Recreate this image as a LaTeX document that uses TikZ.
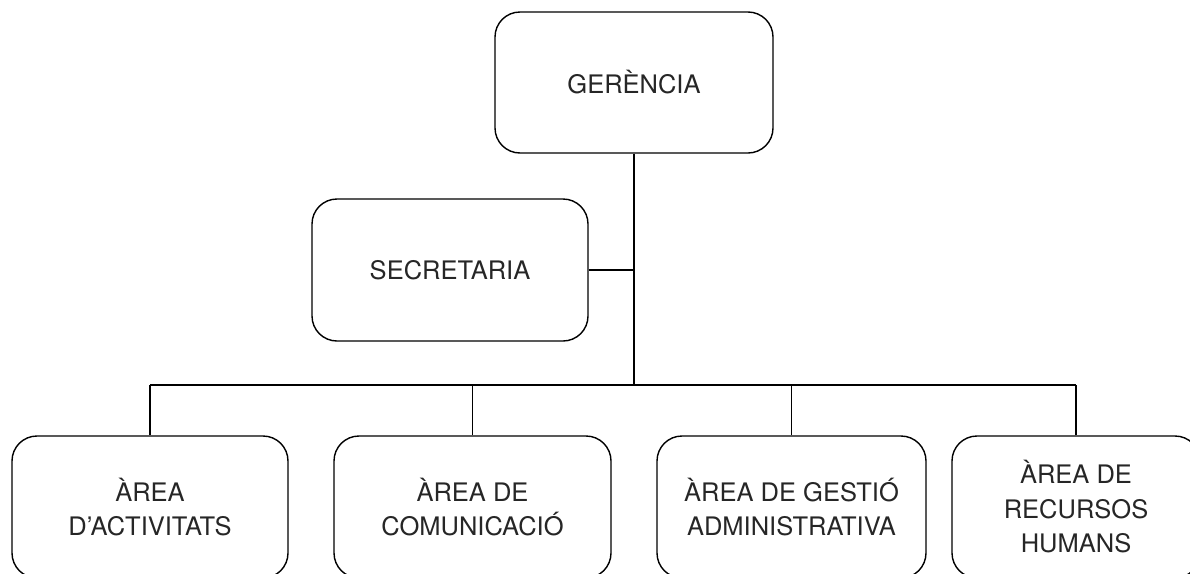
\documentclass[tikz,border=0pt]{standalone}
\usepackage{fontspec}
\setmainfont{TeX Gyre Heros}
\begin{document}
\begin{tikzpicture}[x=1pt,y=-1pt,
  box/.style={draw=black, line width=1.4pt, rounded corners=25pt, align=center,
    font=\fontsize{25.5}{34.5}\selectfont, text=black!85, inner sep=0pt},
  conn/.style={draw=black, line width=1.4pt}]
\useasboundingbox (0,0) rectangle (1190,573);
\clip (0,0) rectangle (1190,573);
\node[box, minimum width=278pt, minimum height=141pt] (ger) at (634,82.5) {GERÈNCIA};
\node[box, minimum width=276pt, minimum height=142pt] (sec) at (450,270) {SECRETARIA};
\node[box, minimum width=276pt, minimum height=142pt] (b1) at (150,507) {ÀREA\\D’ACTIVITATS};
\node[box, minimum width=277pt, minimum height=142pt] (b2) at (472.5,507) {ÀREA DE\\COMUNICACIÓ};
\node[box, minimum width=269pt, minimum height=142pt] (b3) at (791.5,507) {ÀREA DE GESTIÓ\\ADMINISTRATIVA};
\node[box, minimum width=248pt, minimum height=142pt] (b4) at (1076,507) {ÀREA DE\\RECURSOS\\HUMANS};
\coordinate (bus) at (634,385);
\draw[conn, line width=2pt] (ger.south) -- (bus);
\draw[conn] (sec.east) -- (sec.east -| ger.south);
\draw[conn] (b1.north |- bus) -- (b4.north |- bus);
\foreach \b in {b1,b2,b3,b4} \draw[conn] (\b.north) -- (\b.north |- bus);
\end{tikzpicture}
\end{document}
